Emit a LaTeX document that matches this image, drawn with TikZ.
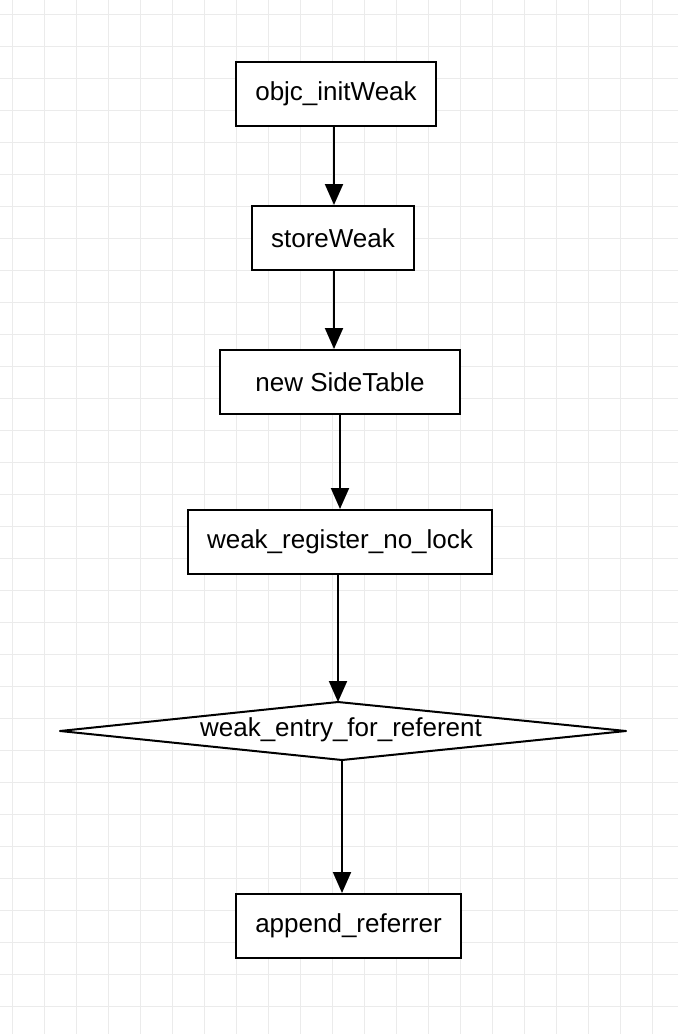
\documentclass[tikz,border=0pt]{standalone}
\usepackage{fontspec}
\setmainfont{Liberation Sans}
\usetikzlibrary{arrows.meta}
\tikzset{
  box/.style={draw=black, line width=2pt, fill=white, minimum height=64pt, inner sep=0pt, font=\fontsize{26}{30}\selectfont},
  lbl/.style={inner sep=0pt, font=\fontsize{26}{30}\selectfont},
  arr/.style={draw=black, line width=2pt, -{Triangle[width=18pt,length=21pt]}},
  gridline/.style={draw={rgb,255:red,235;green,235;blue,235}, line width=1pt}
}
\begin{document}
\begin{tikzpicture}[x=1pt,y=-1pt]
\useasboundingbox[fill=white] (0,0) rectangle (678,1034);
\foreach \gx in {12,44,...,678} {\draw[gridline] (\gx,0) -- (\gx,1034);}
\foreach \gy in {14,46,...,1034} {\draw[gridline] (0,\gy) -- (678,\gy);}

\node[box, minimum width=200pt] (a) at (336,94) {objc\_initWeak};
\node[box, minimum width=162pt] (b) at (333,238) {storeWeak};
\node[box, minimum width=240pt] (c) at (340,382) {new SideTable};
\node[box, minimum width=304pt] (d) at (340,542) {weak\_register\_no\_lock};
\coordinate (dt) at (338,702);
\coordinate (dr) at (626,731);
\coordinate (db) at (342,760);
\coordinate (dl) at (60,731);
\draw[line width=2pt, fill=white, line join=round] (dt) -- (dr) -- (db) -- (dl) -- cycle;
\node[lbl] (e) at (341,730) {weak\_entry\_for\_referent};
\node[box, minimum width=225pt] (f) at (348.5,926) {append\_referrer};

\draw[arr] ([xshift=-2pt]a.south) -- ([xshift=1pt]b.north);
\draw[arr] ([xshift=1pt]b.south) -- ([xshift=-6pt]c.north);
\draw[arr] (c.south) -- (d.north);
\draw[arr] ([xshift=-2pt]d.south) -- (dt);
\draw[arr] (db) -- ([xshift=-6.5pt]f.north);
\end{tikzpicture}
\end{document}
